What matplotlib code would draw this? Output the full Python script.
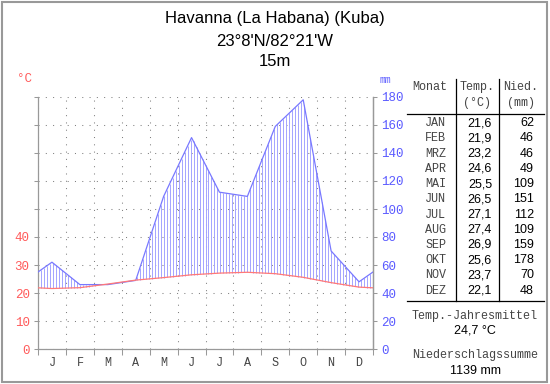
import numpy as np
import matplotlib
matplotlib.use("Agg")
import matplotlib.pyplot as plt
from matplotlib.lines import Line2D
from matplotlib.patches import Rectangle

# station info
title = "Havanna (La Habana) (Kuba)"
coords = "23°8'N/82°21'W"
elevation = "15m"

month_letters = ["J", "F", "M", "A", "M", "J", "J", "A", "S", "O", "N", "D"]
month_names = ["JAN", "FEB", "MRZ", "APR", "MAI", "JUN", "JUL", "AUG", "SEP", "OKT", "NOV", "DEZ"]
temp = [21.6, 21.9, 23.2, 24.6, 25.5, 26.5, 27.1, 27.4, 26.9, 25.6, 23.7, 22.1]
prec = [62, 46, 46, 49, 109, 151, 112, 109, 159, 178, 70, 48]
temp_labels = ["21,6", "21,9", "23,2", "24,6", "25,5", "26,5", "27,1", "27,4", "26,9", "25,6", "23,7", "22,1"]
temp_mean = "24,7 °C"
prec_sum = "1139 mm"

MONO = "Liberation Mono"
SANS = "Liberation Sans"
RED = "#ff5a5a"
BLUE = "#5a5aff"
GRAY = "#999999"
W, H = 550, 384


def fx(px):
    return px / W


def fy(py):
    return 1 - py / H


fig = plt.figure(figsize=(5.5, 3.84), dpi=100)
fig.patch.set_facecolor("white")

ax = fig.add_axes([fx(38), fy(349), fx(373) - fx(38), fy(97) - fy(349)])
ax.set_xlim(0, 12)
ax.set_ylim(0, 90)

# curves at month centres, closed at the year edges with Dec/Jan mean
x = np.concatenate([[0], np.arange(12) + 0.5, [12]])
t = np.array(temp)
p = np.array(prec) / 2.0
t_ext = np.concatenate([[(t[0] + t[-1]) / 2], t, [(t[0] + t[-1]) / 2]])
p_ext = np.concatenate([[(p[0] + p[-1]) / 2], p, [(p[0] + p[-1]) / 2]])

# humid period: vertical hatch lines between the curves
xs = np.arange(0, 12.001, 3 / 28)
tv = np.interp(xs, x, t_ext)
pv = np.interp(xs, x, p_ext)
wet = pv > tv
ax.vlines(xs[wet], tv[wet], pv[wet], color="#a4a4ff", lw=0.7, zorder=2)

ax.plot(x, p_ext, color="#7878ff", lw=0.9, zorder=3)
ax.plot(x, t_ext, color="#ff7878", lw=0.9, zorder=4)

# dotted grid
ax.set_yticks(range(0, 91, 10))
ax.set_yticklabels([str(v) if v <= 40 else "" for v in range(0, 91, 10)])
ax.set_xticks(range(13))
ax.set_xticklabels([""] * 13)
ax.set_xticks(np.arange(12) + 0.5, minor=True)
ax.set_xticklabels(month_letters, minor=True)
ax.grid(True, which="major", color="#808080", lw=0.75, ls=(0, (1, 6)))
ax.tick_params(axis="x", which="major", length=4, color=GRAY, width=0.75)
ax.tick_params(axis="x", which="minor", length=0, pad=6, labelsize=8.5, labelcolor="#444444")
ax.tick_params(axis="y", length=3, color=GRAY, width=0.75, pad=3, labelsize=9, labelcolor=RED)
for lab in ax.get_xticklabels(minor=True) + ax.get_yticklabels():
    lab.set_fontfamily(MONO)

ax.spines["top"].set_visible(False)
for side in ["left", "right", "bottom"]:
    ax.spines[side].set_color(GRAY)
    ax.spines[side].set_linewidth(0.9)

ax2 = ax.twinx()
ax2.set_ylim(0, 180)
ax2.set_yticks(range(0, 181, 20))
ax2.tick_params(axis="y", length=3, color=GRAY, width=0.75, pad=3, labelsize=9, labelcolor=BLUE)
for lab in ax2.get_yticklabels():
    lab.set_fontfamily(MONO)
for side in ["top", "left", "bottom"]:
    ax2.spines[side].set_visible(False)
ax2.spines["right"].set_color(GRAY)
ax2.spines["right"].set_linewidth(0.9)

fig.text(fx(24), fy(79), "°C", color=RED, fontsize=9, family=MONO, ha="center", va="center")
fig.text(fx(385), fy(80), "mm", color=BLUE, fontsize=7, family=MONO, ha="center", va="center")

# title
fig.text(fx(275), fy(18), title, fontsize=12, family=SANS, ha="center", va="center")
fig.text(fx(275), fy(41), coords, fontsize=12, family=SANS, ha="center", va="center")
fig.text(fx(275), fy(62), elevation, fontsize=12, family=SANS, ha="center", va="center")

# table
fs = 8.5
mono_kw = dict(fontsize=fs, family=MONO, color="#444444", va="center")
sans_kw = dict(fontsize=fs + 0.5, family=SANS, color="black", va="center")
fig.text(fx(430), fy(87), "Monat", ha="center", **mono_kw)
fig.text(fx(477), fy(87), "Temp.", ha="center", **mono_kw)
fig.text(fx(477), fy(103), "(°C)", ha="center", **mono_kw)
fig.text(fx(521), fy(87), "Nied.", ha="center", **mono_kw)
fig.text(fx(521), fy(103), "(mm)", ha="center", **mono_kw)

fig.add_artist(Line2D([fx(456), fx(456)], [fy(79), fy(301)], color="black", lw=0.9))
fig.add_artist(Line2D([fx(499), fx(499)], [fy(79), fy(301)], color="black", lw=0.9))
fig.add_artist(Line2D([fx(407), fx(544)], [fy(114), fy(114)], color="black", lw=0.9))
fig.add_artist(Line2D([fx(407), fx(544)], [fy(301), fy(301)], color="black", lw=0.9))

for i in range(12):
    y = 123.3 + i * 15.2
    fig.text(fx(446), fy(y), month_names[i], ha="right", **mono_kw)
    fig.text(fx(492), fy(y), temp_labels[i], ha="right", **sans_kw)
    fig.text(fx(534), fy(y), str(prec[i]), ha="right", **sans_kw)

fig.text(fx(475), fy(315.5), "Temp.-Jahresmittel", ha="center", **mono_kw)
fig.text(fx(475), fy(330.5), temp_mean, ha="center", **sans_kw)
fig.text(fx(475), fy(355), "Niederschlagssumme", ha="center", **mono_kw)
fig.text(fx(475), fy(370.5), prec_sum, ha="center", **sans_kw)

# outer frame
fig.add_artist(Rectangle((fx(2), fy(382)), fx(547) - fx(2), fy(2) - fy(382),
                         fill=False, edgecolor=GRAY, lw=1.5, transform=fig.transFigure))

fig.savefig("out.png", dpi=100)
